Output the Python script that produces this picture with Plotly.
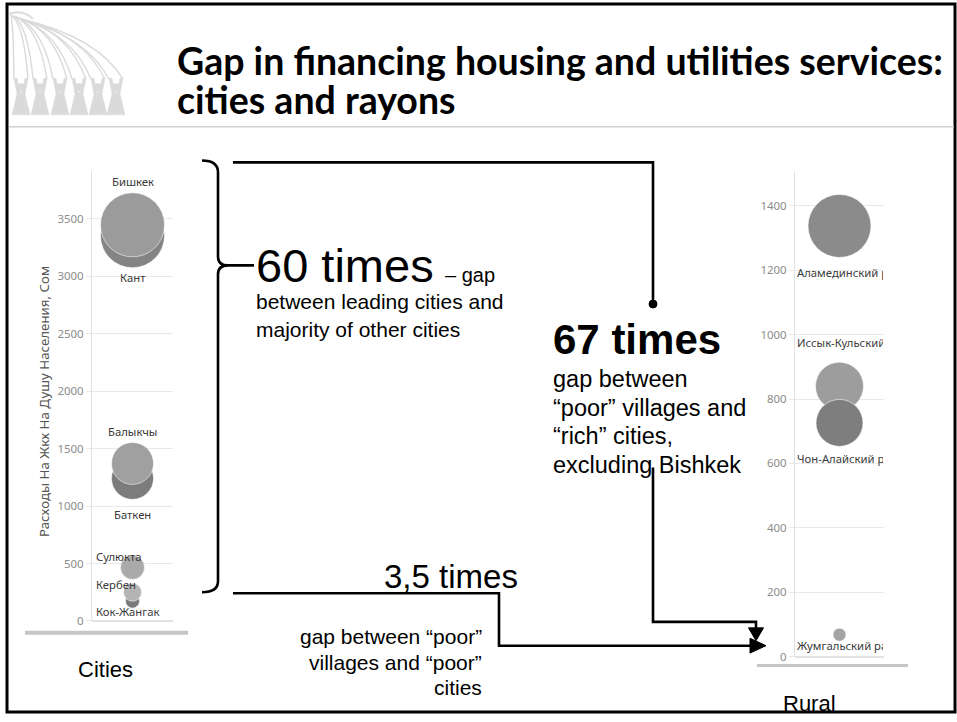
import plotly.graph_objects as go

W, H = 957, 722

# ---- data -------------------------------------------------------------
cities = ["Кант", "Бишкек", "Баткен", "Балыкчы", "Сулюкта", "Кок-Жангак", "Кербен"]
city_spend = [3353, 3448, 1241, 1371, 466, 172, 250]
city_bubble = [64, 64, 42, 42, 24, 14, 18]

rayons = ["Иссык-Кульский район", "Чон-Алайский район", "Аламединский район", "Жумгальский район"]
rayon_spend = [840, 726, 1338, 68]
rayon_bubble = [48, 47, 63, 13]

city_ticks = [0, 500, 1000, 1500, 2000, 2500, 3000, 3500]
rayon_ticks = [0, 200, 400, 600, 800, 1000, 1200, 1400]

# ---- styling ------------------------------------------------------------
city_colors = ["#848484", "#9b9b9b", "#7c7c7c", "#a0a0a0", "#aaaaaa", "#7b7b7b", "#b4b4b4"]
rayon_colors = ["#9d9d9d", "#7e7e7e", "#8b8b8b", "#a4a4a4"]

# label placement around each bubble: (xshift, yshift, xanchor)
city_label_pos = {
    "Бишкек": (0, 43, "center"), "Кант": (0, -42, "center"),
    "Балыкчы": (0, 32, "center"), "Баткен": (0, -36, "center"),
    "Сулюкта": (-39, 11, "left"), "Кербен": (-39, 8, "left"),
    "Кок-Жангак": (-39, -10, "left"),
}
rayon_label_shift = {
    "Аламединский район": -47, "Иссык-Кульский район": 44,
    "Чон-Алайский район": -36, "Жумгальский район": -11,
}


def xp(x):
    return x / W


def yp(y):
    return 1 - y / H


def path(cmds):
    out = []
    for c in cmds:
        op, pts = c[0], c[1:]
        coords = " ".join(f"{xp(x):.5f},{yp(y):.5f}" for x, y in pts)
        out.append(f"{op} {coords}".strip())
    return " ".join(out)


def span(s, size):
    return f"<span style='font-size:{size}px'>{s}</span>"


fig = go.Figure()

fig.add_trace(go.Scatter(
    x=[0.5] * len(cities), y=city_spend, mode="markers", xaxis="x", yaxis="y",
    marker=dict(size=city_bubble, sizemode="diameter", color=city_colors,
                opacity=1, line=dict(color="rgba(255,255,255,0.55)", width=1)),
    hoverinfo="skip", cliponaxis=False, showlegend=False,
))
fig.add_trace(go.Scatter(
    x=[0.5] * len(rayons), y=rayon_spend, mode="markers", xaxis="x2", yaxis="y2",
    marker=dict(size=rayon_bubble, sizemode="diameter", color=rayon_colors,
                opacity=1, line=dict(color="rgba(255,255,255,0.55)", width=1)),
    hoverinfo="skip", cliponaxis=False, showlegend=False,
))

sans = "Noto Sans, Liberation Sans, sans-serif"
tick_font = dict(family=sans, size=11.5, color="#8c8c8c")
label_font = dict(family=sans, size=11.3, color="#3a3a3a")

yaxis_common = dict(
    showgrid=True, gridcolor="#e9e9e9", gridwidth=1, zeroline=True, zerolinecolor="#e2e2e2",
    showline=True, linecolor="#e2e2e2", linewidth=1, ticks="outside", ticklen=5,
    tickcolor="#e9e9e9", tickfont=tick_font, fixedrange=True,
)
xaxis_common = dict(range=[0, 1], visible=False, fixedrange=True)

fig.update_layout(
    width=W, height=H, autosize=False,
    margin=dict(l=0, r=0, t=0, b=0),
    paper_bgcolor="white", plot_bgcolor="rgba(0,0,0,0)",
    xaxis=dict(domain=[xp(92), xp(173)], anchor="y", **xaxis_common),
    yaxis=dict(domain=[yp(627), yp(173)], anchor="x", range=[0, 500 * (627 - 173) / 58],
               tickvals=city_ticks, **yaxis_common),
    xaxis2=dict(domain=[xp(795), xp(884)], anchor="y2", **xaxis_common),
    yaxis2=dict(domain=[yp(663), yp(173)], anchor="x2", range=[0, 200 * (663 - 173) / 65],
                tickvals=rayon_ticks, **yaxis_common),
)

ann = []

# bubble labels
for name, val in zip(cities, city_spend):
    dx, dy, anchor = city_label_pos[name]
    ann.append(dict(x=0.5, y=val, xref="x", yref="y", text=name, showarrow=False,
                    xanchor=anchor, yanchor="middle", xshift=dx, yshift=dy, font=label_font))
for name, val in zip(rayons, rayon_spend):
    ann.append(dict(x=0, y=val, xref="x2 domain", yref="y2", text=name, showarrow=False,
                    xanchor="left", yanchor="middle", xshift=0, yshift=rayon_label_shift[name],
                    width=86, align="left", font=label_font))

# axis title of the city chart
ann.append(dict(x=xp(44), y=yp(406), xref="paper", yref="paper", xanchor="center", yanchor="middle",
                text="Расходы На Жкх На Душу Населения, Сом", textangle=-90, showarrow=False,
                font=dict(family=sans, size=13.3, color="#555555")))

arial = "Liberation Sans, Arial, sans-serif"


def text(x, y, s, size, anchor="left", yanchor="middle", bold=False, family=arial, align=None):
    a = dict(x=xp(x), y=yp(y), xref="paper", yref="paper",
             text=f"<b>{s}</b>" if bold else s, showarrow=False,
             xanchor=anchor, yanchor=yanchor,
             font=dict(family=family, size=size, color="black"))
    if align:
        a["align"] = align
    ann.append(a)


# slide title: base size sets the line pitch, spans set the glyph size
text(175, 125, span("Gap in financing housing and utilities services:", 37.5) + "<br>"
     + span("cities and rayons", 37.5), 30, yanchor="bottom", bold=True, family="Lato", align="left")

# commentary
text(254, 346, span("60 times", 47) + " " + span("&nbsp;– gap", 20) + "<br>between leading cities and"
     "<br>majority of other cities", 21, yanchor="bottom", align="left")

text(551, 343, "67 times", 42, bold=True)
for i, line in enumerate(["gap between", "“poor” villages and", "“rich” cities,", "excluding Bishkek"]):
    text(551, 383 + i * 28.8, line, 23.5)

text(382, 582, "3,5 times", 33)
for i, line in enumerate(["gap between “poor”", "villages and “poor”", "cities"]):
    text(484, 643 + i * 25.5, line, 21, anchor="right")

text(105, 676, "Cities", 22, anchor="center")
text(809, 710, "Rural", 22, anchor="center")

fig.update_layout(annotations=ann)

# ---- decorative shapes ------------------------------------------------------
shapes = []
black = dict(color="black", width=2.6)

# slide frame and header rule
shapes.append(dict(type="rect", xref="paper", yref="paper", x0=xp(7), x1=xp(955), y0=yp(719), y1=yp(4),
                   line=dict(color="black", width=3), layer="above"))
shapes.append(dict(type="line", xref="paper", yref="paper", x0=xp(9), x1=xp(954), y0=yp(128), y1=yp(128),
                   line=dict(color="#d0d0d0", width=1.5)))

# chart baselines
shapes.append(dict(type="line", xref="paper", yref="paper", x0=xp(25), x1=xp(188), y0=yp(639), y1=yp(639),
                   line=dict(color="#c6c6c6", width=4)))
shapes.append(dict(type="line", xref="paper", yref="paper", x0=xp(757), x1=xp(908), y0=yp(672), y1=yp(672),
                   line=dict(color="#c6c6c6", width=3)))

# curly brace around the city chart
brace = path([
    ("M", (202, 162)), ("Q", (218, 162), (218, 174)), ("L", (218, 259)),
    ("Q", (218, 268), (228, 268)), ("L", (254, 268)),
    ("M", (228, 268)), ("Q", (218, 268), (218, 277)), ("L", (218, 587)),
    ("Q", (218, 598), (202, 598)),
])
shapes.append(dict(type="path", xref="paper", yref="paper", path=brace, line=black))

# connector from the top of the brace to the 67-times note
shapes.append(dict(type="path", xref="paper", yref="paper",
                   path=path([("M", (233, 164)), ("L", (653, 164)), ("L", (653, 305))]), line=black))
shapes.append(dict(type="circle", xref="paper", yref="paper", x0=xp(649), x1=xp(657), y0=yp(311), y1=yp(303),
                   fillcolor="black", line=dict(color="black", width=1)))

# connector from the 67-times note down to the rural zero level
shapes.append(dict(type="path", xref="paper", yref="paper",
                   path=path([("M", (653, 472)), ("L", (653, 628)), ("L", (756, 628)), ("L", (756, 636))]),
                   line=black))
shapes.append(dict(type="path", xref="paper", yref="paper",
                   path=path([("M", (748.5, 634)), ("L", (763.5, 634)), ("L", (756, 647)), ("Z",)]),
                   fillcolor="black", line=dict(color="black", width=1)))

# connector from the bottom of the brace to the rural zero level
shapes.append(dict(type="path", xref="paper", yref="paper",
                   path=path([("M", (233, 599)), ("L", (499, 599)), ("L", (499, 652)), ("L", (754, 652))]),
                   line=black))
shapes.append(dict(type="path", xref="paper", yref="paper",
                   path=path([("M", (750, 644.5)), ("L", (766, 652)), ("L", (750, 659.5)), ("Z",)]),
                   fillcolor="black", line=dict(color="black", width=1)))

# emblem in the header corner: figures holding rays from one point
logo = "#dadada"
fig_x = [21, 40, 60, 79, 98, 116]
for i, cx in enumerate(fig_x):
    for side in (-1, 1):
        hx = cx + side * 7
        sx, sy = 11 + i * 2.5, 15 + i * 1.0
        shapes.append(dict(type="path", xref="paper", yref="paper",
                           path=path([("M", (sx, sy)), ("Q", (sx + (hx - sx) * 0.75, sy + 8 + i * 2), (hx, 80))]),
                           line=dict(color=logo, width=1.4)))
    shapes.append(dict(type="circle", xref="paper", yref="paper", x0=xp(cx - 4), x1=xp(cx + 4),
                       y0=yp(92), y1=yp(84), fillcolor=logo, line=dict(color=logo, width=0)))
    shapes.append(dict(type="path", xref="paper", yref="paper",
                       path=path([("M", (cx - 7, 79)), ("L", (cx - 4, 95)), ("L", (cx - 9, 116)),
                                  ("L", (cx + 9, 116)), ("L", (cx + 4, 95)), ("L", (cx + 7, 79)),
                                  ("L", (cx + 4, 79)), ("L", (cx + 1, 93)), ("L", (cx - 1, 93)),
                                  ("L", (cx - 4, 79)), ("Z",)]),
                       fillcolor=logo, line=dict(color=logo, width=0.5)))
shapes.append(dict(type="path", xref="paper", yref="paper",
                   path=path([("M", (9, 14)), ("Q", (22, 9), (33, 19))]),
                   line=dict(color=logo, width=2)))

fig.update_layout(shapes=shapes)

fig.write_html("out.html")
